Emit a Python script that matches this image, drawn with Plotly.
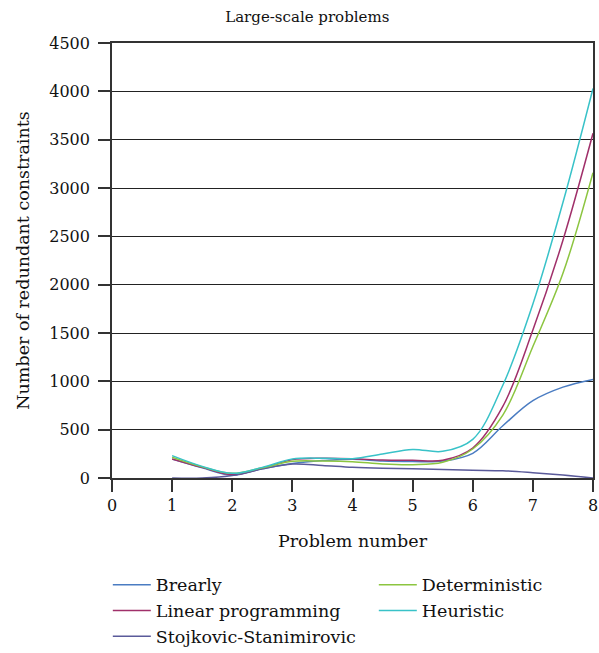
import plotly.graph_objects as go

problem = [1, 1.5, 2, 2.5, 3, 3.5, 4, 4.5, 5, 5.5, 6, 6.5, 7, 7.5, 8]

brearly = [195, 105, 30, 95, 150, 180, 195, 175, 170, 175, 255, 540, 800, 940, 1020]
linear_programming = [197, 110, 35, 100, 190, 205, 200, 185, 183, 183, 310, 740, 1530, 2460, 3566]
stojkovic = [0, 0, 25, 95, 145, 130, 110, 100, 96, 88, 80, 75, 55, 30, 0]
deterministic = [214, 115, 48, 105, 172, 175, 169, 145, 138, 162, 300, 650, 1360, 2117, 3159]
heuristic = [231, 120, 48, 110, 196, 205, 200, 248, 295, 276, 400, 960, 1800, 2850, 4030]

series = [
    ("Brearly", brearly, "#4a7cc2", "legend"),
    ("Linear programming", linear_programming, "#a0306a", "legend"),
    ("Stojkovic-Stanimirovic", stojkovic, "#5a5a9a", "legend"),
    ("Deterministic", deterministic, "#8cc540", "legend2"),
    ("Heuristic", heuristic, "#38c2c8", "legend2"),
]

font_family = "DejaVu Serif, Liberation Serif, serif"

fig = go.Figure()
for name, vals, color, leg in series:
    fig.add_trace(go.Scatter(
        x=problem, y=vals, name=name, mode="lines",
        line=dict(color=color, width=1.5, shape="spline", smoothing=1.0),
        legend=leg,
    ))

legend_common = dict(orientation="v", xanchor="left", yanchor="top",
                     itemwidth=38, font=dict(size=17.5, family=font_family, color="#111"),
                     traceorder="normal", bgcolor="rgba(0,0,0,0)", tracegroupgap=0)

fig.update_layout(
    width=599, height=653,
    margin=dict(l=112, r=6, t=43, b=175, autoexpand=False),
    paper_bgcolor="white", plot_bgcolor="white",
    font=dict(family=font_family, size=15, color="#111"),
    title=dict(text="Large-scale problems", x=0.513, xanchor="center", xref="container",
               y=0.975, yanchor="middle", font=dict(size=15, family=font_family)),
    xaxis=dict(range=[0, 8], dtick=1, tick0=0, showgrid=False, zeroline=False,
               showline=True, linecolor="#333", linewidth=1.5, mirror=True,
               ticks="outside", ticklen=12, tickcolor="#333", tickwidth=1.5,
               automargin=False,
               title=dict(text="Problem number", font=dict(size=17.5), standoff=21),
               tickfont=dict(size=16)),
    yaxis=dict(range=[0, 4500], dtick=500, tick0=0, showgrid=True, gridcolor="#222",
               gridwidth=1, zeroline=False,
               showline=True, linecolor="#333", linewidth=1.5, mirror=True,
               ticks="outside", ticklen=12, tickcolor="#333", tickwidth=1.5,
               ticksuffix="\u00a0", automargin=False,
               title=dict(text="Number of redundant constraints", font=dict(size=17.5), standoff=15),
               tickfont=dict(size=16)),
    legend=dict(x=-0.0087, y=-0.2041, **legend_common),
    legend2=dict(x=0.5443, y=-0.2041, **legend_common),
)

fig.write_html("out.html", config={"displayModeBar": False},
               post_script="document.body.style.margin='0';document.body.style.overflow='hidden';")
